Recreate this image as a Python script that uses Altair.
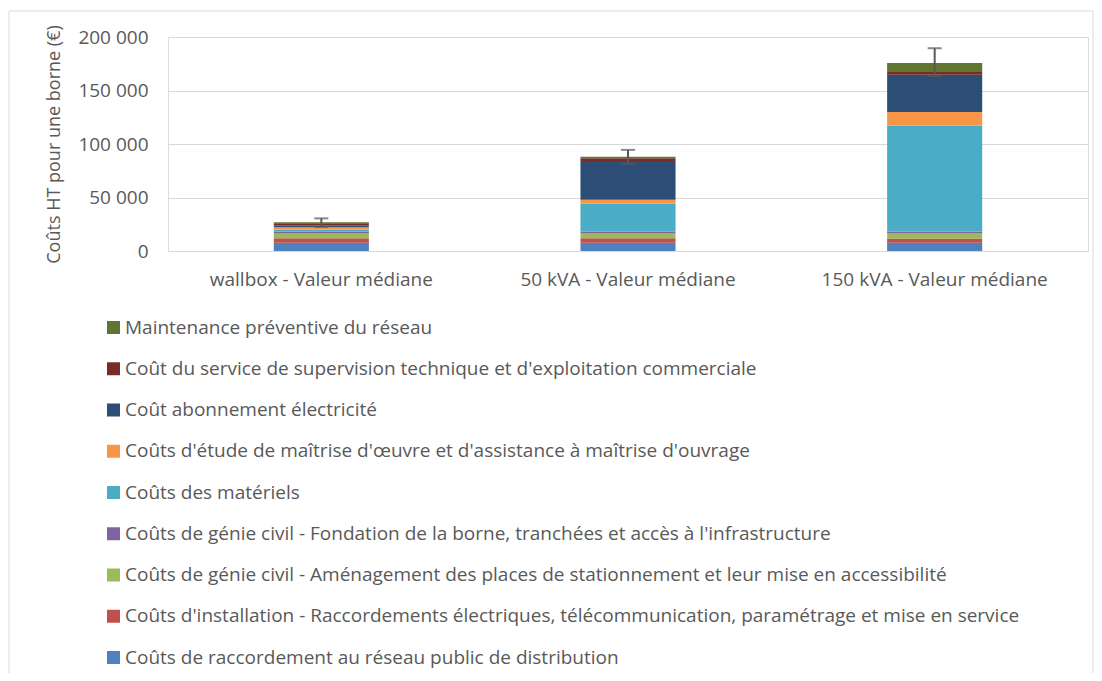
import altair as alt
import pandas as pd

categories = ["wallbox - Valeur médiane", "50 kVA - Valeur médiane", "150 kVA - Valeur médiane"]

series = [
    "Coûts de raccordement au réseau public de distribution",
    "Coûts d'installation - Raccordements électriques, télécommunication, paramétrage et mise en service",
    "Coûts de génie civil - Aménagement des places de stationnement et leur mise en accessibilité",
    "Coûts de génie civil - Fondation de la borne, tranchées et accès à l'infrastructure",
    "Coûts des matériels",
    "Coûts d'étude de maîtrise d'œuvre et d'assistance à maîtrise d'ouvrage",
    "Coût abonnement électricité",
    "Coût du service de supervision technique et d'exploitation commerciale",
    "Maintenance préventive du réseau",
]
colors = ["#4F81BD", "#C0504D", "#9BBB59", "#8064A2", "#4BACC6",
          "#F79646", "#2C4D75", "#772C2A", "#5F7530"]

values = [
    [7800, 7800, 7600],
    [4000, 4000, 4000],
    [4500, 4500, 4700],
    [1800, 1900, 2000],
    [1900, 25900, 99000],
    [2200, 3700, 12500],
    [1600, 36400, 34900],
    [2200, 2500, 2500],
    [900, 1500, 8400],
]

err_low = [22500, 81500, 163500]
err_high = [30500, 94500, 189500]

rows = []
for si, s in enumerate(series):
    for ci, c in enumerate(categories):
        rows.append({"cat": c, "serie": s, "order": si, "val": values[si][ci]})
df = pd.DataFrame(rows)
edf = pd.DataFrame({"cat": categories, "lo": err_low, "hi": err_high})

FONT = "Open Sans"
GRAY = "#595959"
FS = 19

xenc = alt.X("cat:N", sort=categories, title=None,
             scale=alt.Scale(paddingInner=0.69, paddingOuter=0.345),
             axis=alt.Axis(labelAngle=0, labelFontSize=FS, labelColor=GRAY, labelFont=FONT,
                           labelLimit=1000, ticks=False, domainColor="#D9D9D9",
                           labelPadding=19, grid=False))

bars = alt.Chart(df).mark_bar(stroke=None).encode(
    x=xenc,
    y=alt.Y("sum(val):Q", stack="zero", title="Coûts HT pour une borne (€)",
            scale=alt.Scale(domain=[0, 200000]),
            axis=alt.Axis(values=[0, 50000, 100000, 150000, 200000],
                          labelExpr="replace(format(datum.value, ','), ',', ' ')",
                          labelFontSize=FS, labelColor=GRAY, labelFont=FONT,
                          titleFontSize=18, titleColor=GRAY, titleFont=FONT, titleFontWeight="normal",
                          titlePadding=14, ticks=False, domain=False, labelPadding=20,
                          gridColor="#D9D9D9", gridWidth=1)),
    color=alt.Color("serie:N",
                    scale=alt.Scale(domain=series[::-1], range=colors[::-1]),
                    legend=alt.Legend(title=None, orient="none", legendX=-64, legendY=281,
                                      direction="vertical", symbolType="square", symbolSize=169,
                                      symbolStrokeWidth=0, labelFontSize=FS, labelColor=GRAY,
                                      labelFont=FONT, labelLimit=1200, rowPadding=21.25,
                                      labelOffset=2, padding=0)),
    order=alt.Order("order:Q", sort="ascending"),
)

rule = alt.Chart(edf).mark_rule(color=GRAY, strokeWidth=2).encode(
    x=alt.X("cat:N", sort=categories), y="lo:Q", y2="hi:Q")
caps_lo = alt.Chart(edf).mark_tick(color=GRAY, thickness=2, size=14).encode(
    x=alt.X("cat:N", sort=categories), y="lo:Q")
caps_hi = alt.Chart(edf).mark_tick(color=GRAY, thickness=2, size=14).encode(
    x=alt.X("cat:N", sort=categories), y="hi:Q")

border = alt.Chart(pd.DataFrame({"a": [0]})).mark_rect(
    fill=None, stroke="#D9D9D9", strokeWidth=1).encode(
    x=alt.value(-159), x2=alt.value(925), y=alt.value(-26), y2=alt.value(700))

chart = alt.layer(border, bars, rule, caps_lo, caps_hi).properties(
    width=920, height=214,
    autosize=alt.AutoSizeParams(type="none"),
    padding={"left": 160, "top": 29, "right": 6, "bottom": 422},
).configure_view(stroke=None).configure(background="white")

chart.save("out.html", embed_options={"renderer": "svg", "actions": False})
